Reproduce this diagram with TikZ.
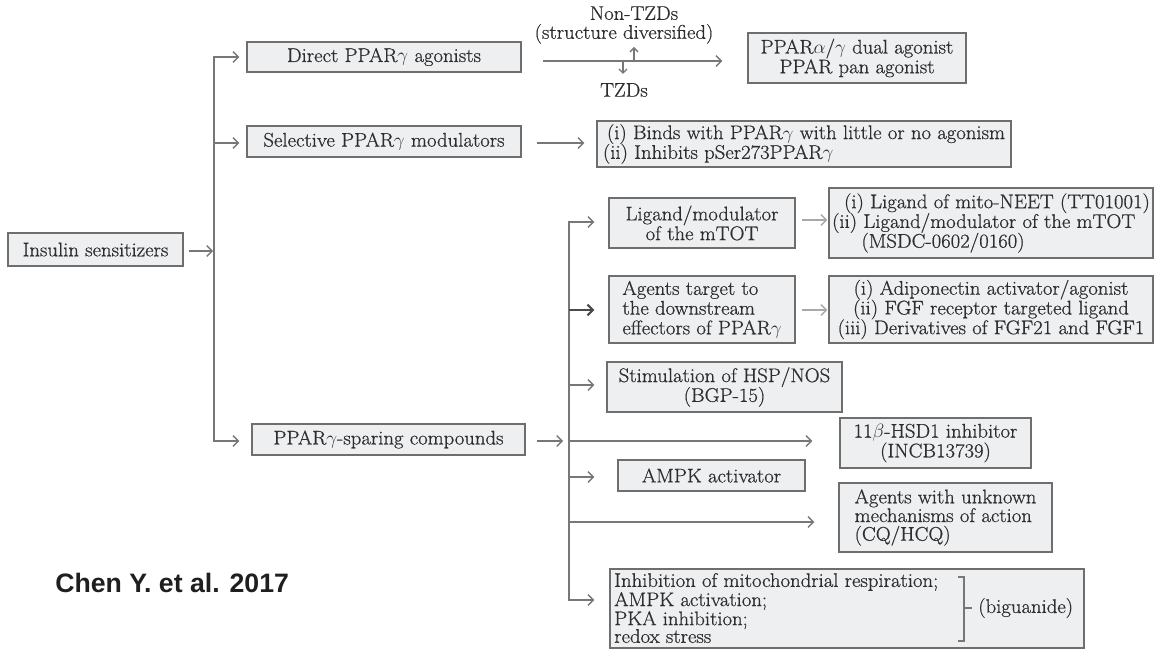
\documentclass[tikz,border=0pt]{standalone}
\usepackage{fontspec}
\setmainfont{Latin Modern Roman}[FakeBold=0.7, FakeStretch=1.05]
\setsansfont{Liberation Sans}
\usetikzlibrary{arrows.meta,calc}
\definecolor{boxfill}{HTML}{EEEFF1}
\definecolor{boxline}{HTML}{6E6E6E}
\definecolor{conn}{HTML}{777777}
\definecolor{darkconn}{HTML}{4A4A4A}
\definecolor{lightconn}{HTML}{A8A8A8}
\definecolor{txt}{HTML}{2E2E2E}
\begin{document}
\begin{tikzpicture}[x=0.75pt,y=-0.75pt,
  sz/.style 2 args={minimum width=#1*0.75pt, minimum height=#2*0.75pt},
  box/.style={draw=boxline, fill=boxfill, line width=1.1pt, inner sep=0pt, text=txt, font=\fontsize{14.8}{14.8}\selectfont},
  lbl/.style={inner sep=0pt, text=txt, font=\fontsize{14.8}{14.8}\selectfont},
  arr/.style={draw=conn, line width=1pt, -{Straight Barb[length=4pt,width=8pt]}},
  sarr/.style={draw=conn, line width=1pt, -{Straight Barb[length=3pt,width=6pt]}},
  ln/.style={draw=conn, line width=1pt},
]
\useasboundingbox (0,0) rectangle (1155,649);

% boxes
\node[box, sz={175}{33}] (ins) at (95.5,249.5) {Insulin sensitizers};
\node[box, sz={274}{30}] (direct) at (384,57) {Direct PPAR$\gamma$ agonists};
\node[box, sz={274}{31}] (select) at (384,141.5) {Selective PPAR$\gamma$ modulators};
\node[box, sz={273}{31}] (spare) at (388.5,439.5) {PPAR$\gamma$-sparing compounds};
\node[box, sz={218}{50}, align=center] (dual) at (857,58) {PPAR$\alpha$/$\gamma$ dual agonist\\PPAR pan agonist};
\node[box, sz={414}{46}, align=left] (binds) at (804,144) {\hspace*{3pt}(i) Binds with PPAR$\gamma$ with little or no agonism\\(ii) Inhibits pSer273PPAR$\gamma$};
\node[box, sz={186}{50}, align=center] (ligand) at (702,223) {Ligand/modulator\\of the mTOT};
\node[box, sz={324}{70}, align=left] (mito) at (991,223) {\hspace*{9pt}(i) Ligand of mito-NEET (TT01001)\\(ii) Ligand/modulator of the mTOT\\\hspace*{22pt}(MSDC-0602/0160)};
\node[box, sz={186}{67}, align=left] (agents) at (702,309.5) {Agents target to\\the downstream\\effectors of PPAR$\gamma$};
\node[box, sz={324}{67}, align=center] (adipo) at (991,309.5) {(i) Adiponectin activator/agonist\\(ii) FGF receptor targeted ligand\\(iii) Derivatives of FGF21 and FGF1};
\node[box, sz={235}{50}, align=center] (stim) at (724.5,387) {Stimulation of HSP/NOS\\(BGP-15)};
\node[box, sz={191}{50}, align=center] (hsd) at (935.5,443) {11$\beta$-HSD1 inhibitor\\(INCB13739)};
\node[box, sz={187}{31}] (ampk) at (711.5,475.5) {AMPK activator};
\node[box, sz={213}{69}, align=left, font=\fontsize{14.8}{14}\selectfont] (unk) at (945.5,517.5) {Agents with unknown\\mechanisms of action\\(CQ/HCQ)};
\node[box, sz={474}{79}] (big) at (847,608.5) {};
\node[lbl, align=left, anchor=west, font=\fontsize{14.8}{13.2}\selectfont] (bigtxt) at (614,608) {Inhibition of mitochondrial respiration;\\AMPK activation;\\PKA inhibition;\\redox stress};
\node[lbl, anchor=west] (bigu) at (978,608) {(biguanide)};
\draw[ln] (958,577) -- (964,577) -- (964,641) -- (958,641);
\draw[ln] (964,608) -- ($(bigu.west)+(-6,0)$);

% labels above/below direct arrow
\node[lbl, align=center, font=\fontsize{14.8}{14.2}\selectfont] (nontzd) at (624,25) {\hspace*{15pt}Non-TZDs\\(structure diversified)};
\node[lbl] (tzd) at (624,90) {TZDs};

% citation
\node[inner sep=0pt, anchor=west, text=black!88, font=\fontsize{20}{24}\sffamily\bfseries\selectfont] (cite) at (55,583) {Chen Y. et al. 2017};

% main trunk
\coordinate (t1) at (214,57);
\coordinate (t2) at (214,143);
\coordinate (t3) at (214,441);
\draw[arr] ($(ins.east)+(5,1.5)$) -- ($(ins.east -| t2)+(-1,1.5)$);
\draw[arr] (t2) -- (t1) -- ($(t1 -| direct.west)+(-7,0)$);
\draw[arr] (t2) -- ($(t2 -| select.west)+(-7,0)$);
\draw[arr] (t2) -- (t3) -- ($(t3 -| spare.west)+(-12,0)$);

% direct agonists branch
\draw[arr] ($(direct.east)+(21,4)$) -- ($(direct.east -| dual.west)+(-25,4)$);
\coordinate (up0) at (634,61);
\coordinate (dn0) at (623,61);
\draw[sarr] (up0) -- ($(nontzd.south)+(10,3)$);
\draw[sarr] (dn0) -- ($(tzd.north)+(-1,-9)$);

% selective
\draw[arr] ($(select.east)+(15,1.5)$) -- ($(select.east -| binds.west)+(-12,1.5)$);

% sparing trunk
\coordinate (s1) at (569,222);
\coordinate (s2) at (569,310);
\coordinate (s3) at (569,385);
\coordinate (s4) at (569,441);
\coordinate (s5) at (569,477);
\coordinate (s6) at (569,522);
\coordinate (s7) at (569,600);
\draw[arr] ($(spare.east)+(11,1.5)$) -- ($(s4)+(-6,0)$);
\draw[arr] (s4) -- (s1) -- ($(s1 -| ligand.west)+(-14,0)$);
\draw[arr, draw=darkconn, line width=1.5pt] (s2) -- ($(s2 -| agents.west)+(-14,0)$);
\draw[arr] (s3) -- ($(s3 -| stim.west)+(-12,0)$);
\draw[arr] (s4) -- ($(s4 -| hsd.west)+(-27,0)$);
\draw[arr] (s5) -- ($(s5 -| ampk.west)+(-23,0)$);
\draw[arr] (s6) -- ($(s6 -| unk.west)+(-24,0)$);
\draw[arr] (s4) -- (s7) -- ($(s7 -| big.west)+(-15,0)$);

% light arrows
\draw[arr, draw=lightconn] ($(ligand.east)+(6,-3)$) -- ($(ligand.east -| mito.west)+(-1,-3)$);
\draw[arr, draw=lightconn] ($(agents.east)+(6,0.5)$) -- ($(agents.east -| adipo.west)+(-1,0.5)$);
\end{tikzpicture}
\end{document}
